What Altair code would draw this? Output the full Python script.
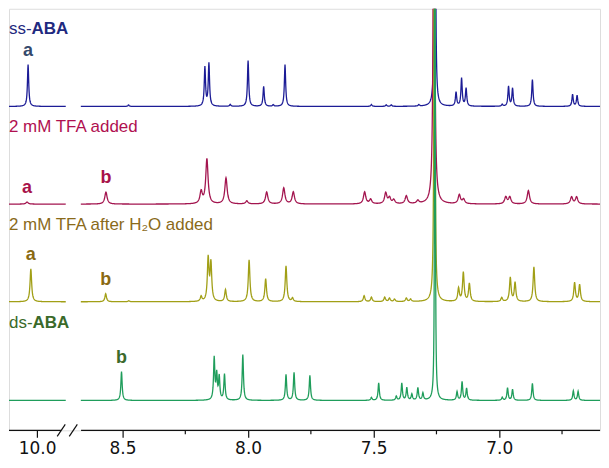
import numpy as np
import pandas as pd
import altair as alt

# ---------------- data (ppm, peak heights in arbitrary units) --------------
traces = ["ss-ABA", "2 mM TFA added", "2 mM TFA after H2O added", "ds-ABA"]

ss_ppm = [10.036, 8.476, 8.172, 8.156, 8.071, 8.000, 7.938, 7.900, 7.853, 7.509, 7.450, 7.430,
          7.320, 7.256, 7.172, 7.150, 7.132, 6.988, 6.963, 6.947, 6.868, 6.708, 6.690]
ss_h = [42, 1.5, 39, 43, 2, 46, 20, 1.5, 42, 2, 1.5, 1.5,
        1.5, 500, 14, 28, 18, 2, 20, 18, 27, 12, 11]

tfa_ppm = [10.04, 8.566, 8.187, 8.164, 8.088, 8.005, 7.926, 7.858, 7.820, 7.536, 7.512, 7.452,
           7.437, 7.420, 7.370, 7.324, 7.260, 7.159, 7.142, 6.974, 6.958, 6.884, 6.712, 6.692]
tfa_h = [2, 12, 12, 45, 26, 3, 12, 16, 12, 12, 4.5, 11,
         6, 4, 8, 3, 500, 9, 4.5, 7, 7, 13.5, 7, 7]

h2o_ppm = [10.025, 8.567, 8.475, 8.187, 8.159, 8.148, 8.090, 7.996, 7.930, 7.849, 7.823, 7.538,
           7.509, 7.456, 7.437, 7.417, 7.370, 7.353, 7.258, 7.162, 7.143, 7.119, 6.990, 6.956,
           6.937, 6.862, 6.700, 6.680]
h2o_h = [33, 8, 1, 5, 43, 38, 12, 42, 23, 36, 3.5, 6,
         4.5, 4.5, 3.5, 2.5, 3.5, 2.5, 500, 13, 29, 18, 4, 24,
         19, 35, 19, 17]

ds_ppm = [8.504, 8.135, 8.125, 8.115, 8.094, 8.021, 7.849, 7.817, 7.754, 7.509, 7.480, 7.410,
          7.388, 7.368, 7.348, 7.324, 7.304, 7.256, 7.168, 7.148, 7.130, 6.988, 6.967, 6.947,
          6.868, 6.705, 6.686]
ds_h = [29, 42, 25, 23, 26, 46, 26, 28, 25, 3, 17.5, 4,
        17, 12.5, 6, 12.5, 7, 600, 8.5, 18.5, 12, 3, 12.5, 11,
        17, 9.5, 9]

# Lorentzian half-widths (ppm) per trace and for the CDCl3 solvent line
hw = [0.003, 0.0055, 0.0038, 0.003]
solvent_hw = [0.002, 0.003, 0.0022, 0.0015]

# peak labels: trace index, letter, ppm
lab_trace = [0, 1, 1, 2, 2, 3]
lab_letter = ["a", "a", "b", "a", "b", "b"]
lab_ppm = [10.036, 10.04, 8.566, 10.025, 8.567, 8.504]

tick_labels = ["10.0", "8.5", "8.0", "7.5", "7.0"]

# ---------------- build the spectra ----------------
BREAK_SHIFT = 1.16           # left segment (≈10 ppm) is drawn shifted next to the right one
offsets = [325, 227, 129, 30]
line_colors = ["#1c1c96", "#a3154f", "#a19f16", "#1f9d5b"]
title_colors = ["#1f2a80", "#b01050", "#8a6a1a", "#3a6a2a"]
letter_colors = ["#34496b", "#a8124a", "#8a6a12", "#3c6a2c"]

peaks = [(ss_ppm, ss_h), (tfa_ppm, tfa_h), (h2o_ppm, h2o_h), (ds_ppm, ds_h)]

right = np.round(np.arange(6.58, 8.667, 0.001), 4)
left = np.round(np.arange(9.886, 10.14, 0.001), 4)


def spectrum(grid, pp, hh, g, gs):
    y = np.zeros_like(grid)
    for p, h in zip(pp, hh):
        w = gs if h >= 400 else g
        y += h * w * w / ((grid - p) ** 2 + w * w)
    return y


rows = []
for i, (pp, hh) in enumerate(peaks):
    for seg, grid, shift in (("L", left, BREAK_SHIFT), ("R", right, 0.0)):
        inten = spectrum(grid, pp, hh, hw[i], solvent_hw[i])
        df = pd.DataFrame({
            "x": np.round(grid - shift, 4),
            "y": np.round(offsets[i] + inten, 2),
            "seg": seg,
            "trace": traces[i],
        })
        rows.append(df)
spec = pd.concat(rows, ignore_index=True)

W, H = 593, 423
X_LEFT = 8.952
X_RIGHT = X_LEFT - W / 252.0
xscale = alt.Scale(domain=[X_RIGHT, X_LEFT], reverse=True, nice=False, zero=False)
yscale = alt.Scale(domain=[0, H], nice=False, zero=False)

tick_vals = [8.84, 8.5, 8.0, 7.5, 7.0]
label_expr = "datum.value > 8.7 ? '%s' : format(datum.value, '.1f')" % tick_labels[0]

layers = []
for i, t in enumerate(traces):
    layers.append(
        alt.Chart(spec[spec["trace"] == t]).mark_line(
            clip=True, strokeWidth=1.3, color=line_colors[i]
        ).encode(
            x=alt.X("x:Q", scale=xscale,
                    axis=alt.Axis(values=tick_vals, title=None, domain=False,
                                  grid=False, tickSize=7, tickColor="#111", tickWidth=1.2,
                                  labelExpr=label_expr,
                                  labelFont="DejaVu Sans", labelFontSize=17, labelColor="#111",
                                  labelPadding=3)),
            y=alt.Y("y:Q", scale=yscale, axis=None),
            detail="seg:N",
            order="x:Q",
        )
    )

# peak letters
lab_rows = []
for tr, letter, p in zip(lab_trace, lab_letter, lab_ppm):
    pp, hh = peaks[tr]
    top = spectrum(np.array([p]), pp, hh, hw[tr], solvent_hw[tr])[0]
    lab_rows.append({"x": p - BREAK_SHIFT if p > 9 else p, "y": offsets[tr] + top + 14,
                     "t": letter, "c": letter_colors[tr]})
labs = pd.DataFrame(lab_rows)
layers.append(
    alt.Chart(labs).mark_text(font="Liberation Sans", fontSize=18, fontWeight="bold",
                              baseline="middle", align="center").encode(
        x=alt.X("x:Q", scale=xscale), y=alt.Y("y:Q", scale=yscale),
        text="t:N", color=alt.Color("c:N", scale=None))
)

# trace titles
title_y = [20, 119, 217, 315]
plain = ["ss-", "2 mM TFA added", "2 mM TFA after H\u2082O added", "ds-"]
bold_x = [22.7, None, None, 23.6]
for i in range(4):
    layers.append(
        alt.Chart(pd.DataFrame({"t": [plain[i]]})).mark_text(
            font="Liberation Sans", fontSize=17, align="left", baseline="middle",
            color=title_colors[i]).encode(x=alt.value(0), y=alt.value(title_y[i]), text="t:N")
    )
    if bold_x[i] is not None:
        layers.append(
            alt.Chart(pd.DataFrame({"t": ["ABA"]})).mark_text(
                font="Liberation Sans", fontSize=17, fontWeight="bold", align="left",
                baseline="middle", color=title_colors[i]).encode(
                x=alt.value(bold_x[i]), y=alt.value(title_y[i]), text="t:N")
        )

# broken axis line, break marks and minor ticks
axis_seg = pd.DataFrame({"x": [X_LEFT, 8.665], "x2": [8.745, X_RIGHT]})
layers.append(
    alt.Chart(axis_seg).mark_rule(color="#111", strokeWidth=1.3).encode(
        x=alt.X("x:Q", scale=xscale), x2="x2:Q", y=alt.value(H))
)
slashes = pd.DataFrame({"x": [8.760, 8.712], "x2": [8.728, 8.680]})
layers.append(
    alt.Chart(slashes).mark_rule(color="#111", strokeWidth=1.2).encode(
        x=alt.X("x:Q", scale=xscale), x2="x2:Q", y=alt.value(H + 6), y2=alt.value(H - 6))
)
minor = pd.DataFrame({"x": [8.25, 7.75, 7.25, 6.75]})
layers.append(
    alt.Chart(minor).mark_rule(color="#111", strokeWidth=1.2).encode(
        x=alt.X("x:Q", scale=xscale), y=alt.value(H), y2=alt.value(H + 4))
)

chart = alt.layer(*layers).properties(width=W, height=H, padding=0).configure_view(
    stroke=None).configure(background="white")

chart.save("out.html", embed_options={"renderer": "svg", "actions": False})
